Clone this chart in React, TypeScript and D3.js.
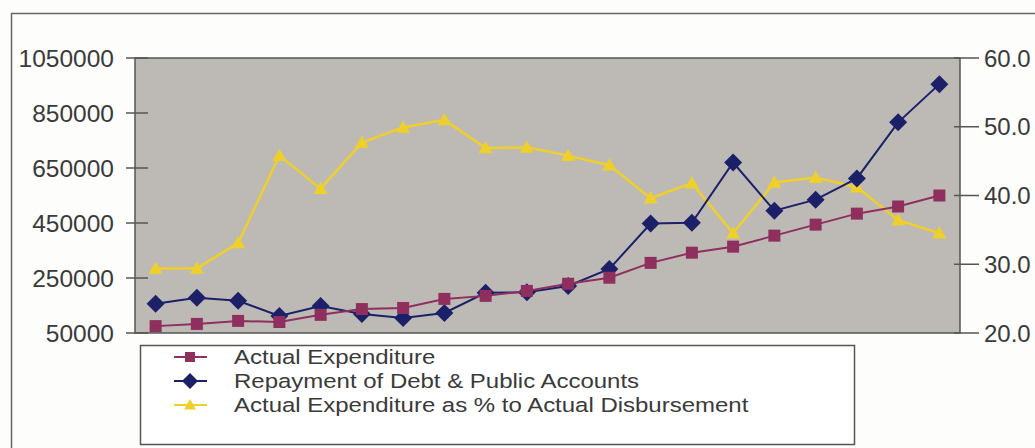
import React from "react";
import * as d3 from "d3";

const categories = [
  "1", "2", "3", "4", "5", "6", "7", "8", "9", "10",
  "11", "12", "13", "14", "15", "16", "17", "18", "19", "20",
];
const actualExpenditure = [
  75000, 83000, 94000, 90000, 116000, 137000, 141000, 174000, 185000, 203000,
  229000, 251000, 305000, 342000, 364000, 404000, 444000, 484000, 510000, 550000,
];
const repaymentDebt = [
  156000, 178000, 167000, 112000, 148000, 119000, 105000, 123000, 196000, 198000,
  221000, 283000, 448000, 451000, 670000, 495000, 535000, 612000, 816000, 955000,
];
const expenditurePct = [
  29.4, 29.4, 33.1, 45.8, 41.0, 47.7, 49.9, 51.0, 46.9, 47.0,
  45.8, 44.4, 39.6, 41.8, 34.5, 41.9, 42.6, 41.2, 36.4, 34.5,
];
const leftTicks = [50000, 250000, 450000, 650000, 850000, 1050000];
const rightTicks = [20, 30, 40, 50, 60];
const legendLabels = [
  "Actual Expenditure",
  "Repayment of Debt & Public Accounts",
  "Actual Expenditure as % to Actual Disbursement",
];

const PURPLE = "#8e2f5e";
const NAVY = "#1c2068";
const YELLOW = "#efd02a";
const AXIS = "#555555";
const TEXT = "#3a3a3a";

const plot = { left: 135, right: 960, top: 58, bottom: 333 };

export default function App() {
  const x = d3
    .scaleBand<string>()
    .domain(categories)
    .range([plot.left, plot.right])
    .padding(0);
  const cx = (i: number) => (x(categories[i]) as number) + x.bandwidth() / 2;
  const yL = d3.scaleLinear().domain([50000, 1050000]).range([plot.bottom, plot.top]);
  const yR = d3.scaleLinear().domain([20, 60]).range([plot.bottom, plot.top]);

  const lineL = d3
    .line<number>()
    .x((_, i) => cx(i))
    .y((d) => yL(d));
  const lineR = d3
    .line<number>()
    .x((_, i) => cx(i))
    .y((d) => yR(d));

  const square = (px: number, py: number, key: string, color: string, s = 12) => (
    <rect key={key} x={px - s / 2} y={py - s / 2} width={s} height={s} fill={color} />
  );
  const diamond = (px: number, py: number, key: string, color: string, r = 9) => (
    <path
      key={key}
      d={`M${px},${py - r}L${px + r},${py}L${px},${py + r}L${px - r},${py}Z`}
      fill={color}
    />
  );
  const triangle = (px: number, py: number, key: string, color: string, r = 7) => (
    <path
      key={key}
      d={`M${px},${py - r}L${px + r},${py + r * 0.75}L${px - r},${py + r * 0.75}Z`}
      fill={color}
    />
  );

  const font = "'Liberation Sans', Arial, sans-serif";

  const legendY = [357, 381, 405];

  return (
    <svg
      width={1035}
      height={448}
      style={{ position: "absolute", left: 0, top: 0, background: "#fff" }}
      fontFamily={font}
    >
      <rect x={0} y={0} width={1035} height={448} fill="#fdfdfc" />
      {/* outer frame */}
      <path d="M11.5,460 L11.5,13.5 L1040,13.5" fill="none" stroke="#666" strokeWidth={1.5} />

      {/* plot area */}
      <rect
        x={plot.left}
        y={plot.top}
        width={plot.right - plot.left}
        height={plot.bottom - plot.top}
        fill="#bdbab5"
        stroke={AXIS}
        strokeWidth={1.5}
      />

      {/* left axis */}
      {leftTicks.map((t) => (
        <g key={"l" + t}>
          <line x1={126} x2={148} y1={yL(t)} y2={yL(t)} stroke={AXIS} strokeWidth={1.5} />
          <text
            x={114}
            y={yL(t)}
            dy="0.36em"
            textAnchor="end"
            fontSize={24.5}
            fill={TEXT}
          >
            {t}
          </text>
        </g>
      ))}

      {/* right axis */}
      {rightTicks.map((t) => (
        <g key={"r" + t}>
          <line x1={954} x2={979} y1={yR(t)} y2={yR(t)} stroke={AXIS} strokeWidth={1.5} />
          <text x={984} y={yR(t)} dy="0.36em" textAnchor="start" fontSize={24} fill={TEXT}>
            {t.toFixed(1)}
          </text>
        </g>
      ))}

      {/* series */}
      <path d={lineR(expenditurePct) || ""} fill="none" stroke={YELLOW} strokeWidth={2.5} />
      {expenditurePct.map((d, i) => triangle(cx(i), yR(d), "t" + i, YELLOW))}

      <path d={lineL(repaymentDebt) || ""} fill="none" stroke={NAVY} strokeWidth={2} />
      {repaymentDebt.map((d, i) => diamond(cx(i), yL(d), "d" + i, NAVY))}

      <path d={lineL(actualExpenditure) || ""} fill="none" stroke={PURPLE} strokeWidth={2} />
      {actualExpenditure.map((d, i) => square(cx(i), yL(d), "s" + i, PURPLE))}

      {/* legend */}
      <rect x={140.5} y={345.5} width={714} height={99} fill="#fff" stroke={AXIS} strokeWidth={1.5} />
      {legendLabels.map((label, i) => {
        const ly = legendY[i];
        const color = [PURPLE, NAVY, YELLOW][i];
        const mk =
          i === 0
            ? square(190, ly, "lm" + i, color, 10)
            : i === 1
            ? diamond(190, ly, "lm" + i, color, 8)
            : triangle(190, ly, "lm" + i, color, 6);
        return (
          <g key={"lg" + i}>
            <line x1={174} x2={207} y1={ly} y2={ly} stroke={color} strokeWidth={2} />
            {mk}
            <g transform={`translate(234,${ly}) scale(1.17,1)`}>
              <text x={0} y={0} dy="0.36em" fontSize={20.5} fill={TEXT}>
                {label}
              </text>
            </g>
          </g>
        );
      })}
    </svg>
  );
}
